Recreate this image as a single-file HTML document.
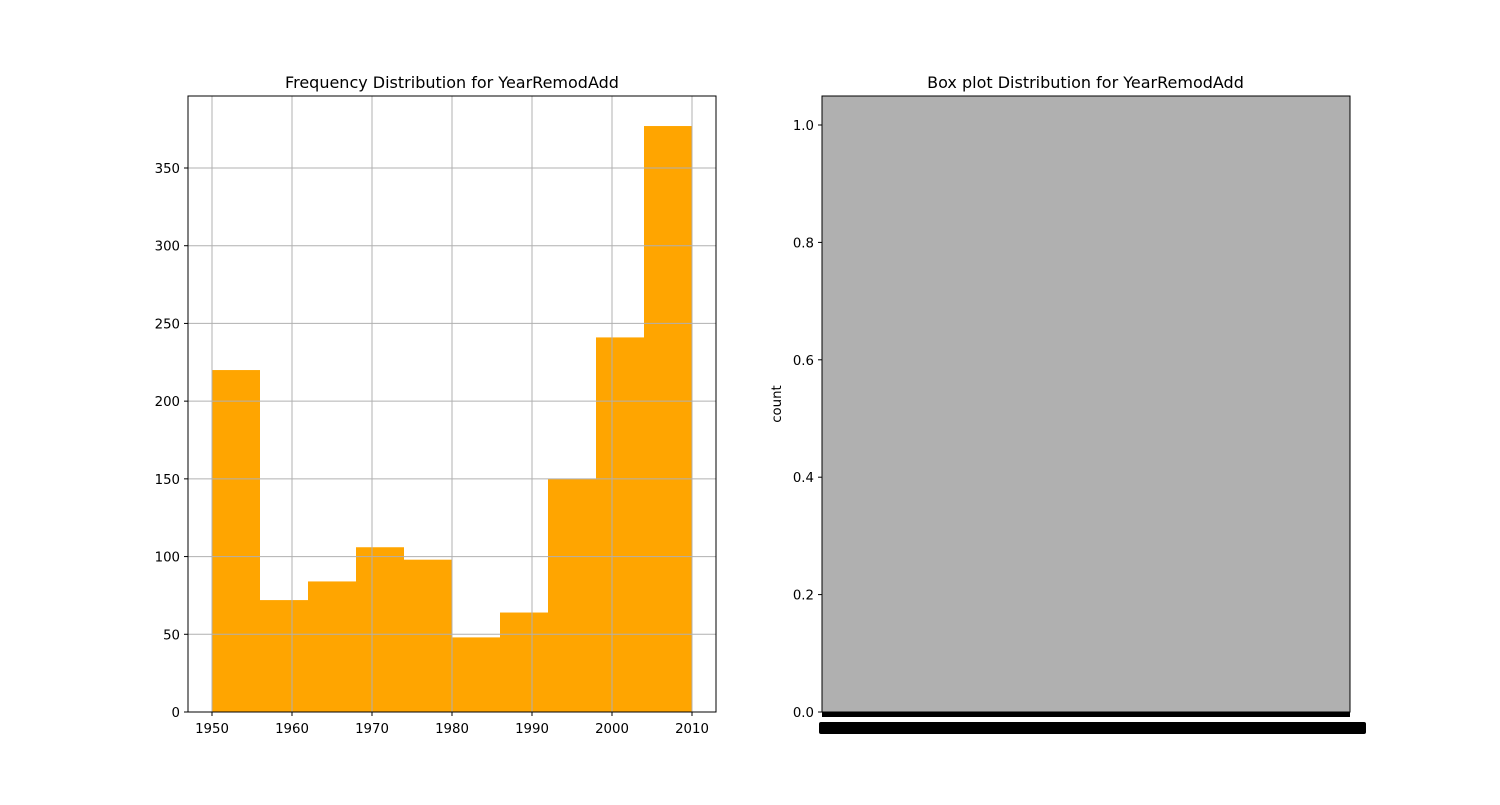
<!DOCTYPE html>
<html><head><meta charset="utf-8"><style>
body{margin:0;background:#fff;}
svg text{font-family:"DejaVu Sans","Liberation Sans",sans-serif;font-size:13.3px;fill:#000;}
</style></head><body>
<svg id="s" width="1500" height="800" xmlns="http://www.w3.org/2000/svg">
<rect width="1500" height="800" fill="#fff"/>
<g id="left"></g>
<g id="right">
<rect x="822" y="96" width="528" height="616" fill="#b0b0b0"/>
<rect x="822" y="96" width="528" height="616" fill="none" stroke="#000" stroke-width="1"/>
<rect x="822" y="712" width="528" height="5" fill="#000"/>
<rect x="819" y="722" width="547" height="12" rx="2" fill="#000"/>
<text x="1085.5" y="88" text-anchor="middle" style="font-size:16px">Box plot Distribution for YearRemodAdd</text>
<text x="781" y="404" text-anchor="middle" transform="rotate(-90 781 404)">count</text>
</g>
</svg>
<script>
const binEdges=[1950,1956,1962,1968,1974,1980,1986,1992,1998,2004,2010];
const counts=[220,72,84,106,98,48,64,150,241,377];
const xTicks=[1950,1960,1970,1980,1990,2000,2010];
const yTicks=[0,50,100,150,200,250,300,350];
const rTicks=[0,0.2,0.4,0.6,0.8,1.0];
const NS="http://www.w3.org/2000/svg";
const L=document.getElementById('left'), R=document.getElementById('right');
const X0=188,X1=716,Y0=96,Y1=712;
const xs=v=>212+(v-1950)*8;
const ys=v=>712-v*(544/350);
const ry=v=>712-v*587;
function mk(p,tag,a){const e=document.createElementNS(NS,tag);for(const k in a)e.setAttribute(k,a[k]);p.appendChild(e);return e;}
counts.forEach((c,i)=>{const b=mk(L,'rect',{x:xs(binEdges[i]),y:ys(c),width:xs(binEdges[i+1])-xs(binEdges[i]),height:712-ys(c),fill:'#ffa500'});

});
xTicks.forEach(t=>{const g=mk(L,'line',{x1:xs(t),x2:xs(t),y1:Y0,y2:Y1,stroke:'#b0b0b0','stroke-width':1});

});
yTicks.forEach(t=>{const g=mk(L,'line',{x1:X0,x2:X1,y1:ys(t),y2:ys(t),stroke:'#b0b0b0','stroke-width':1});

});
const f=mk(L,'rect',{x:X0,y:Y0,width:X1-X0,height:Y1-Y0,fill:'none',stroke:'#000','stroke-width':1});


xTicks.forEach(t=>{mk(L,'line',{x1:xs(t),x2:xs(t),y1:712,y2:716,stroke:'#000'});
const tx=mk(L,'text',{x:xs(t),y:733,'text-anchor':'middle'});tx.textContent=t;

});
yTicks.forEach(t=>{mk(L,'line',{x1:184,x2:188,y1:ys(t),y2:ys(t),stroke:'#000'});
const tx=mk(L,'text',{x:180,y:ys(t)+5,'text-anchor':'end'});tx.textContent=t;

});
const ti=mk(L,'text',{x:452,y:88,'text-anchor':'middle',style:'font-size:16px'});ti.textContent='Frequency Distribution for YearRemodAdd';


rTicks.forEach(t=>{mk(R,'line',{x1:818,x2:822,y1:ry(t),y2:ry(t),stroke:'#000'});
const tx=mk(R,'text',{x:814,y:ry(t)+5,'text-anchor':'end'});tx.textContent=t.toFixed(1);

});
</script>
</body></html>
